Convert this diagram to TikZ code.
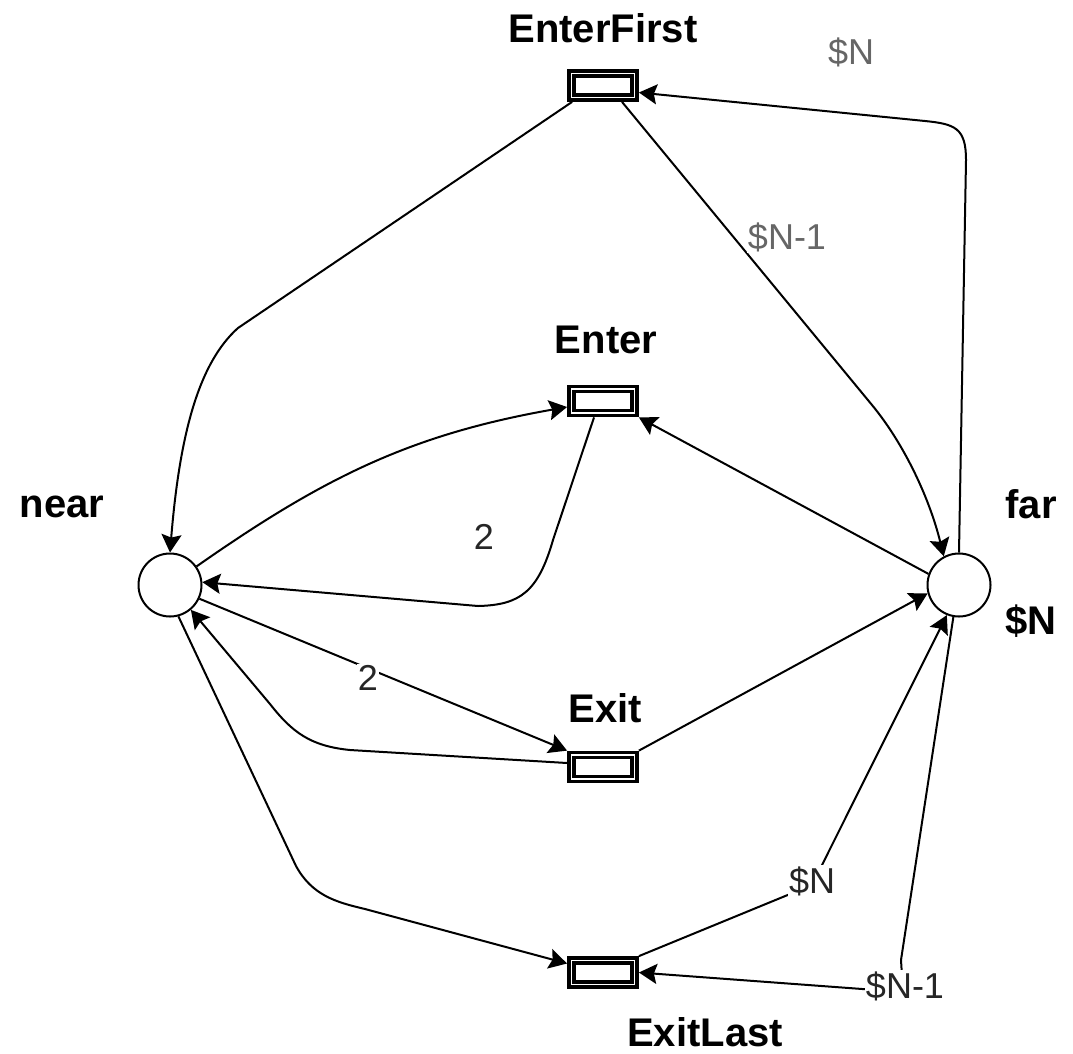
\documentclass[tikz,border=0pt]{standalone}
\usepackage{fontspec}
\setmainfont{Liberation Sans}
\usetikzlibrary{arrows.meta}

\begin{document}
\begin{tikzpicture}[x=1pt,y=-1pt,
  place/.style={circle, draw, line width=2pt, minimum size=63pt, inner sep=0pt},
  trans/.style={rectangle, draw, line width=3.5pt, double=white, double distance=1.8pt,
                minimum width=63pt, minimum height=24pt, inner sep=0pt, outer sep=4.4pt},
  tname/.style={font=\fontsize{40}{40}\selectfont\bfseries, inner sep=0pt},
  arc/.style={line width=2pt, -{Stealth[length=18pt,width=20pt,inset=3pt]}},
  weight/.style={font=\fontsize{36}{36}\selectfont, text=black!85, fill=white, inner sep=1pt},
  faint/.style={text=black!60}
]
% canvas
\fill[white] (0,0) rectangle (1073,1053);
\useasboundingbox (0,0) rectangle (1073,1053);

% places
\node[place] (near) at (170,585) {};
\node[place] (far)  at (959,585) {};

% transitions
\node[trans] (ef) at (603,85.5) {};
\node[trans] (en) at (603,401) {};
\node[trans] (ex) at (603,767) {};
\node[trans] (xl) at (603,972.5) {};

% names
\node[tname] at (603,28) {EnterFirst};
\node[tname] at (606,340) {Enter};
\node[tname] at (605,708.5) {Exit};
\node[tname] at (705,1032) {ExitLast};
\node[tname] at (62,507) {near};
\node[tname] at (1031,504) {far};
\node[tname] at (1031,621) {\$N};

% arcs
\draw[arc] ([xshift=5pt]ef.south west) -- (238,328) .. controls (200,362) and (180,430) .. (near.north);
\draw[arc] ([xshift=19pt]ef.south) -- (872,405) .. controls (905,445) and (930,500) .. (far.118);
\draw[arc] (far.north) -- (966,160) .. controls (966,128) and (955,124) .. (925,121) -- ([yshift=-7pt]ef.east);

\draw[arc] (near.35) to[out=35,in=190] ([yshift=-6pt]en.west);
\draw[arc] ([xshift=-9pt]en.south) -- (553,540) .. controls (538,592) and (520,605) .. (478,606) -- (near.5);
\draw[arc] (far.160) -- (en.south east);

\draw[arc] (near.-25) -- (ex.north west);
\draw[arc] ([yshift=4pt]ex.west) -- (350,750) .. controls (310,746) and (292,732) .. (270,704) -- (near.-50);
\draw[arc] (ex.north east) -- (far.195);

\draw[arc] (near.-75) -- (296,866) .. controls (312,895) and (335,902) .. (365,909) -- ([yshift=9pt]xl.west);
\draw[arc] (xl.north east) -- (812,885) -- (far.-112);
\draw[arc] (far.-100) -- (901,960) -- (903,992) -- (xl.east);

% arc weights
\node[weight, faint] (w1) at (851,52) {\$N};
\node[weight, faint] (w2) at (787,237) {\$N-1};
\node[weight, fill=none] (w3) at (484,537) {2};
\node[weight] (w4) at (368,678) {2};
\node[weight] (w5) at (812,881) {\$N};
\node[weight] (w6) at (905,986) {\$N-1};
\end{tikzpicture}
\end{document}
